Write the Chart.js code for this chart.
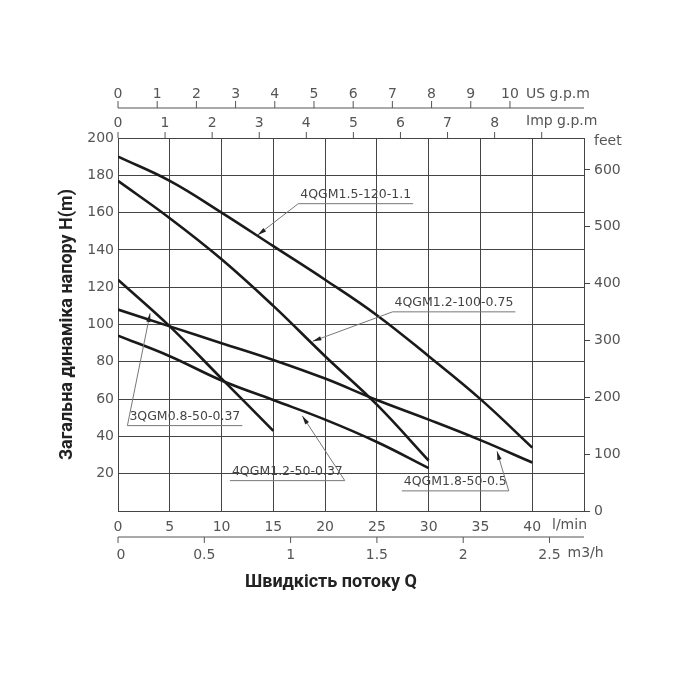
<!DOCTYPE html>
<html><head><meta charset="utf-8">
<script src="https://cdn.jsdelivr.net/npm/chart.js@4/dist/chart.umd.min.js"></script>
<style>body{margin:0;background:#fff}#w{width:700px;height:700px}</style>
</head><body><div id="w"><canvas id="c"></canvas></div>
<script>
const flowLmin = [0,5,10,15,20,25,30,35,40];
const h_4QGM15_120 = [190,177,160,142,124,105,83,60,34];
const h_4QGM12_100 = [177,157,135,110,83,57,27];
const h_3QGM08_50 = [124,99,71,43];
const h_4QGM12_50 = [94,83,70,59.5,49,37,23];
const h_4QGM18_50 = [108,99,90,81,71,59.5,49,38,26];
const seriesNames = ['4QGM1.5-120-1.1','4QGM1.2-100-0.75','3QGM0.8-50-0.37','4QGM1.2-50-0.37','4QGM1.8-50-0.5'];
const usGpmTicks = [0,1,2,3,4,5,6,7,8,9,10];
const impGpmTicks = [0,1,2,3,4,5,6,7,8,9];
const m3hTicks = [0,0.5,1,1.5,2,2.5];
const feetTicks = [0,100,200,300,400,500,600];
const LMIN_PER_USGPM = 3.785, LMIN_PER_IMPGPM = 4.546, LMIN_PER_M3H = 16.667, M_PER_FT = 0.3048;

function pts(arr){ return arr.map((h,i)=>({x:flowLmin[i], y:h})); }
const allSeries = [h_4QGM15_120,h_4QGM12_100,h_3QGM08_50,h_4QGM12_50,h_4QGM18_50];

const labels = [
 [seriesNames[0], 17.6, 168, 13.5, 148, 'L'],
 [seriesNames[1], 26.7, 110, 18.8, 91, 'L'],
 [seriesNames[2], 1.1, 49, 3.1, 106, 'L'],
 [seriesNames[3], 11.0, 19.5, 17.8, 51, 'R'],
 [seriesNames[4], 27.6, 14, 36.6, 32, 'R']
];

const grey = '#555', font = '"DejaVu Sans", sans-serif';
const extra = {
 id:'extra',
 afterDraw(ch){
  const c = ch.ctx, x = ch.scales.x, y = ch.scales.y, a = ch.chartArea;
  c.save();
  c.strokeStyle = '#555'; c.lineWidth = 1; c.fillStyle = grey;
  c.font = '14px '+font; c.textAlign='center'; c.textBaseline='alphabetic';
  const usY = 108;
  c.beginPath(); c.moveTo(a.left,usY); c.lineTo(a.right,usY); c.stroke();
  usGpmTicks.forEach(t=>{const px=x.getPixelForValue(t*LMIN_PER_USGPM);
    c.beginPath(); c.moveTo(px,usY); c.lineTo(px,usY-7); c.stroke();
    c.fillText(String(t),px,usY-10);});
  c.textAlign='left'; c.fillText('US g.p.m', a.right-58, usY-10);
  c.textAlign='center';
  impGpmTicks.forEach(t=>{const px=x.getPixelForValue(t*LMIN_PER_IMPGPM);
    c.beginPath(); c.moveTo(px,a.top); c.lineTo(px,a.top-6); c.stroke();
    if(t<9) c.fillText(String(t),px,a.top-11);});
  c.textAlign='left'; c.fillText('Imp g.p.m', a.right-58, a.top-13);
  c.fillText('feet', a.right+10, a.top+7);
  c.fillText('l/min', a.right-32, a.bottom+18);
  const mY = 537;
  c.beginPath(); c.moveTo(a.left,mY); c.lineTo(a.right,mY); c.stroke();
  c.textAlign='center';
  m3hTicks.forEach(t=>{const px=x.getPixelForValue(t*LMIN_PER_M3H);
    c.beginPath(); c.moveTo(px,mY); c.lineTo(px,mY+6); c.stroke();
    c.fillText(String(t),px+(t===0?3:0),mY+22);});
  c.textAlign='left'; c.fillText('m3/h', x.getPixelForValue(2.5*LMIN_PER_M3H)+18, mY+20);
  c.fillStyle='#222'; c.font='bold 18px "Roboto", sans-serif'; c.textAlign='center';
  c.fillText('Швидкість потоку Q', (a.left+a.right)/2-20, 587);
  c.save(); c.translate(72,(a.top+a.bottom)/2); c.rotate(-Math.PI/2);
  c.fillText('Загальна динаміка напору H(m)',0,0); c.restore();
  c.font='12.5px '+font; c.textAlign='left'; c.fillStyle='#444';
  labels.forEach(([t,q,h,lq,lh,side])=>{
    const tx=x.getPixelForValue(q), ty=y.getPixelForValue(h);
    const w=c.measureText(t).width;
    c.fillText(t,tx,ty);
    const uy=ty+6;
    c.strokeStyle='#777'; c.lineWidth=1;
    c.beginPath(); c.moveTo(tx-2,uy); c.lineTo(tx+w+2,uy); c.stroke();
    const sx = side==='L'? tx-2 : tx+w+2;
    const ex=x.getPixelForValue(lq), ey=y.getPixelForValue(lh);
    c.beginPath(); c.moveTo(sx,uy); c.lineTo(ex,ey); c.stroke();
    const ang=Math.atan2(ey-uy,ex-sx);
    c.fillStyle='#222'; c.beginPath(); c.moveTo(ex,ey);
    c.lineTo(ex-9*Math.cos(ang-0.25),ey-9*Math.sin(ang-0.25));
    c.lineTo(ex-9*Math.cos(ang+0.25),ey-9*Math.sin(ang+0.25)); c.closePath(); c.fill();
    c.fillStyle='#444';
  });
  c.restore();
 }
};

new Chart(document.getElementById('c'),{
 type:'line',
 data:{datasets: allSeries.map((s,i)=>({label:seriesNames[i], data:pts(s), borderColor:'#1a1a1a', borderWidth:2.6, pointRadius:0, tension:0.4, yAxisID:'y'}))},
 options:{
  responsive:true, maintainAspectRatio:false, animation:false,
  layout:{padding:{top:138,left:0,right:0,bottom:0}},
  plugins:{legend:{display:false}, tooltip:{enabled:false}},
  scales:{
   x:{type:'linear', min:0, max:45, position:'bottom',
      afterFit(s){s.height=189;},
      border:{color:'#444',width:1},
      grid:{color:'#444', lineWidth:1, drawTicks:false},
      ticks:{stepSize:5, padding:8, color:grey, font:{size:14,family:'DejaVu Sans'}, callback:v=> v>=45?'':v}},
   y:{type:'linear', min:0, max:200, position:'left',
      afterFit(s){s.width=118;},
      border:{color:'#444',width:1},
      grid:{color:'#444', lineWidth:1, drawTicks:false},
      ticks:{stepSize:20, padding:4, color:grey, font:{size:14,family:'DejaVu Sans'}, callback:v=> v===0?'':v}},
   yf:{type:'linear', min:0, max:200/M_PER_FT, position:'right',
      afterFit(s){s.width=116;},
      afterBuildTicks(s){s.ticks=feetTicks.map(v=>({value:v}));},
      border:{color:'#444',width:1},
      grid:{drawOnChartArea:false, color:'#444', tickLength:6},
      ticks:{padding:4, color:grey, font:{size:14,family:'DejaVu Sans'}}}
  }
 },
 plugins:[extra]
});
</script></body></html>
